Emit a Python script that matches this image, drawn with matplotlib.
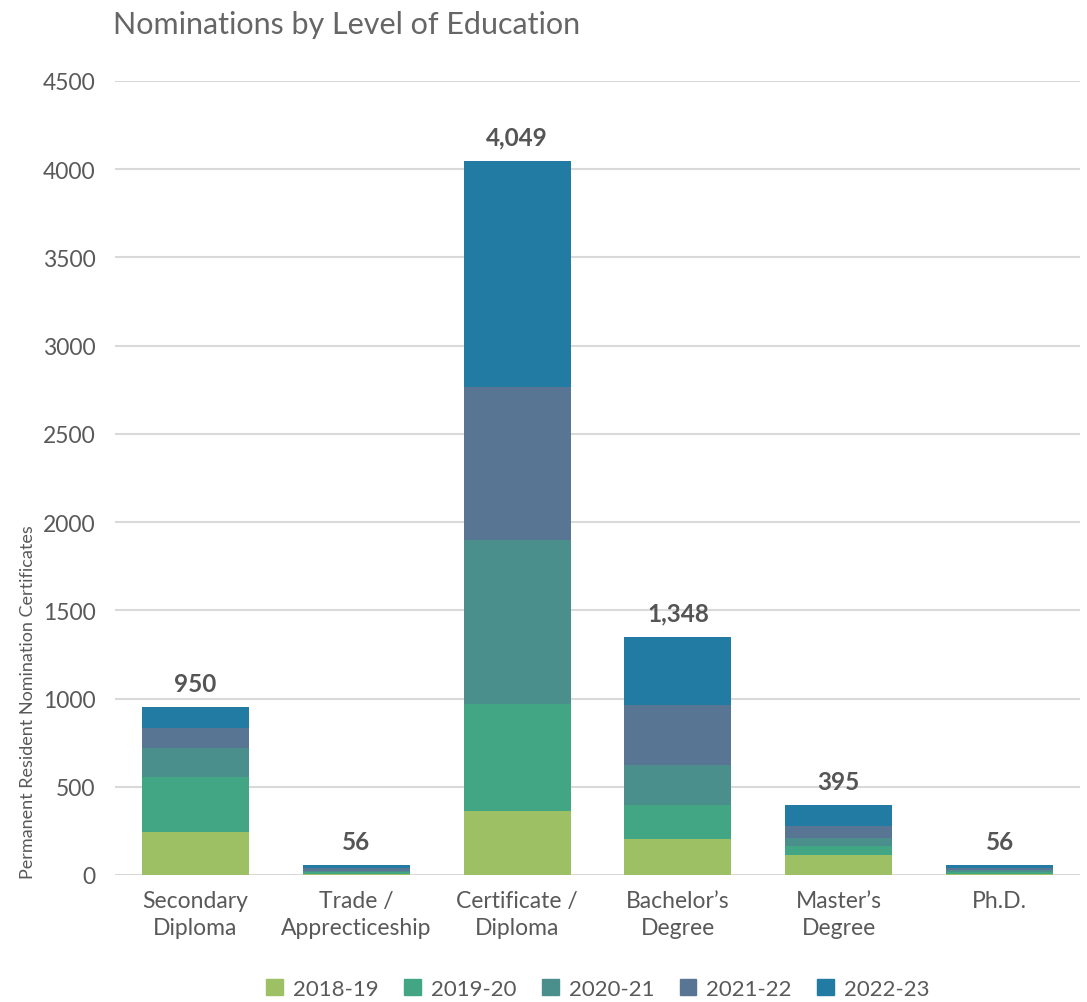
import numpy as np
import matplotlib.pyplot as plt
from matplotlib.patches import Patch

# niveles de educacion y años
niveles = ["Secondary\nDiploma", "Trade /\nApprecticeship", "Certificate /\nDiploma",
           "Bachelor’s\nDegree", "Master’s\nDegree", "Ph.D."]
anios = ["2018-19", "2019-20", "2020-21", "2021-22", "2022-23"]

# nominaciones por año (una lista por año, en el orden de niveles)
n_2018_19 = [245, 5, 363, 204, 113, 6]
n_2019_20 = [310, 12, 606, 193, 51, 10]
n_2020_21 = [165, 8, 930, 226, 45, 12]
n_2021_22 = [112, 14, 867, 340, 68, 10]
n_2022_23 = [118, 17, 1283, 385, 118, 18]
series = [n_2018_19, n_2019_20, n_2020_21, n_2021_22, n_2022_23]

colores = ["#9dc064", "#42a685", "#4a8f8c", "#587593", "#217ba3"]

plt.rcParams["font.family"] = ["Lato", "DejaVu Sans"]
gris = "#595959"

fig = plt.figure(figsize=(10.87, 10.03), dpi=100)
ax = fig.add_axes([115 / 1087, 1 - 876 / 1003, 965 / 1087, (876 - 82) / 1003])

x = np.arange(len(niveles))
base = np.zeros(len(niveles))
for valores, color, anio in zip(series, colores, anios):
    ax.bar(x, valores, width=0.665, bottom=base, color=color, label=anio, zorder=3)
    base += np.array(valores)

# etiquetas de totales encima de cada barra
for xi, total in zip(x, base):
    ax.text(xi, total + 70, f"{int(total):,}", ha="center", va="bottom",
            fontsize=17.5, fontweight="bold", color="#555555")

ax.set_xlim(-0.5, len(niveles) - 0.5)
ax.set_ylim(0, 4500)
ax.set_yticks(np.arange(0, 4501, 500))
ax.yaxis.grid(True, color="#d9d9d9", linewidth=1.5, zorder=0)
ax.set_xticks(x)
ax.set_xticklabels(niveles, fontsize=16.5, color=gris, linespacing=1.35)
ax.tick_params(axis="y", labelsize=16.5, labelcolor=gris, length=0, pad=14)
ax.tick_params(axis="x", length=0, pad=11)
for s in ax.spines.values():
    s.set_visible(False)

fig.text(113 / 1087, 1 - 25 / 1003, "Nominations by Level of Education",
         fontsize=22, color="#666666", ha="left", va="center")
fig.text(28 / 1087, 1 - 702 / 1003, "Permanent Resident Nomination Certificates",
         rotation=90, fontsize=13, color=gris, ha="center", va="center")

handles = [Patch(color=c, label=a) for c, a in zip(colores, anios)]
fig.legend(handles=handles, loc="center", bbox_to_anchor=(598 / 1087, 1 - 990 / 1003),
           ncol=5, frameon=False, fontsize=16, labelcolor=gris, handlelength=0.75,
           handleheight=0.75, columnspacing=1.15, handletextpad=0.45)

plt.savefig("out.png", dpi=100)
